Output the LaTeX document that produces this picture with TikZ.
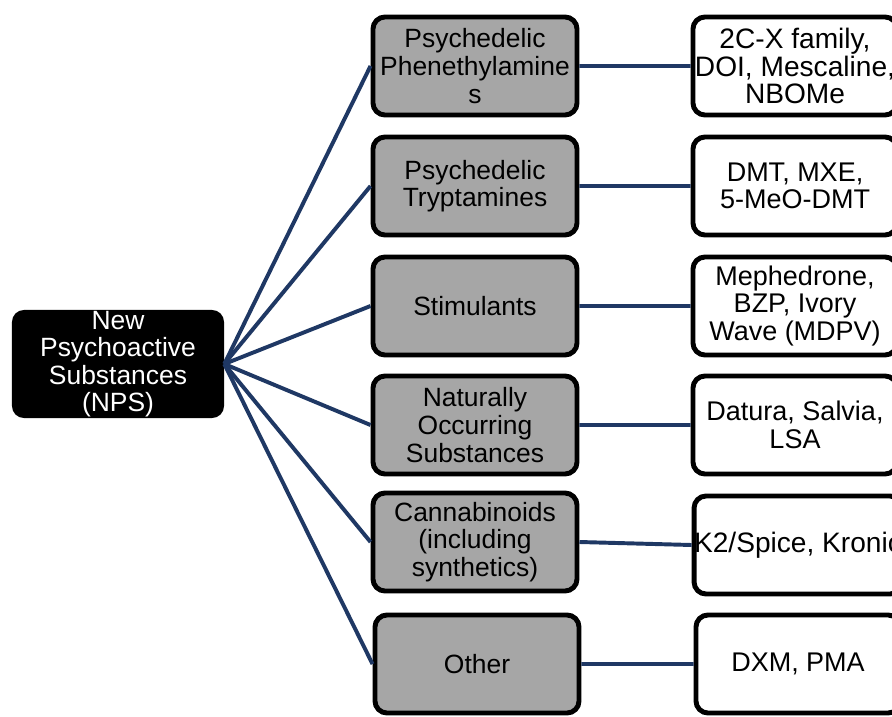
\documentclass[tikz,border=0pt]{standalone}
\usepackage{fontspec}
\setmainfont{Liberation Sans}
\definecolor{linkblue}{RGB}{31,56,100}
\definecolor{boxgray}{RGB}{166,166,166}
\begin{document}
\begin{tikzpicture}[x=0.025cm, y=-0.025cm,
    link/.style={draw=linkblue, line width=2.8pt},
    root/.style={fill=black, text=white, rounded corners=0.3cm, minimum width=5.3cm, minimum height=2.7cm, align=center, inner sep=0pt, font=\fontsize{18.8}{19.6}\selectfont},
    group/.style={draw, fill=boxgray, line width=3.5pt, rounded corners=0.3cm, minimum width=5.1cm, minimum height=2.45cm, align=center, inner sep=0pt, font=\fontsize{18.8}{19.6}\selectfont},
    drugs/.style={draw, fill=white, line width=3.5pt, rounded corners=0.3cm, minimum width=5.1cm, minimum height=2.45cm, align=center, inner sep=0pt, font=\fontsize{19.2}{19.6}\selectfont}]
    \path[use as bounding box, clip] (0,0) rectangle (892,716);
    %nodes
    \node[root] at (118,364) (nps) {New\\Psychoactive\\Substances\\(NPS)};
    \node[group] at (475,66) (phen) {Psychedelic\\Phenethylamine\\s};
    \node[group] at (475,186) (trypt) {Psychedelic\\Tryptamines};
    \node[group] at (475,306) (stim) {Stimulants};
    \node[group] at (475,425) (natural) {Naturally\\Occurring\\Substances};
    \node[group] at (475,542) (cannab) {Cannabinoids\\(including\\synthetics)};
    \node[group] at (477,664) (other) {Other};
    \node[drugs, font=\fontsize{20}{19.6}\selectfont] at (795,66) (phenex) {2C-X family,\\DOI, Mescaline,\\NBOMe};
    \node[drugs] at (795,186) (tryptex) {DMT, MXE,\\5-MeO-DMT};
    \node[drugs] at (795,306) (stimex) {Mephedrone,\\BZP, Ivory\\Wave (MDPV)};
    \node[drugs] at (795,425) (naturalex) {Datura, Salvia,\\LSA};
    \node[drugs, font=\fontsize{20}{19.6}\selectfont] at (798,545) (cannabex) {K2/Spice, Kronic};
    \node[drugs] at (798,664) (otherex) {DXM, PMA};
    %links
    \foreach \g in {phen, trypt, stim, natural, cannab, other}
        \path[link] (nps.east) -- (\g.west) (\g.east) -- (\g ex.west);
\end{tikzpicture}
\end{document}
